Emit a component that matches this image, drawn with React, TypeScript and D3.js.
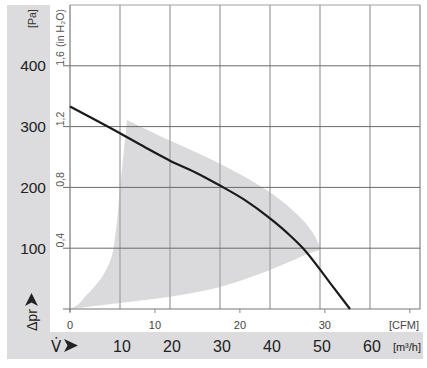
import * as d3 from "d3";
import { useEffect, useRef } from "react";

// fan curve: flow [m³/h] -> static pressure [Pa]
const curveFlow = [0, 10, 15, 20, 25, 30, 35, 40, 44, 46.6, 52, 56];
const curvePa = [333, 289, 266, 244, 225, 203, 179, 149, 121, 100, 43, 0];

// grey operating envelope, three edges
const leftEdgeFlow = [0, 1, 3, 6, 8, 9.2, 10, 10.7, 11.4];
const leftEdgePa = [0, 4, 20, 48, 78, 130, 200, 255, 311];
const topEdgeFlow = [11.4, 20, 30, 40, 46, 48.6, 50];
const topEdgePa = [311, 277, 239, 192, 151, 125, 102];
const bottomEdgeFlow = [50, 48, 40, 30, 20, 10, 0];
const bottomEdgePa = [97, 92, 64, 36, 20, 10, 0];

const flowTicks = [10, 20, 30, 40, 50, 60];
const paTicks = [100, 200, 300, 400];
const inH2OTicks = [0.4, 0.8, 1.2, 1.6];
const inH2OLabels = ["0,4", "0,8", "1,2", "1,6"];
const cfmTicks = [0, 10, 20, 30, 40];
const cfmLabels = ["0", "10", "20", "30", ""];

const W = 427;
const H = 368;
const FONT = "'Liberation Sans', Arial, sans-serif";

export default function App() {
  const ref = useRef<SVGSVGElement>(null);

  useEffect(() => {
    const svg = d3.select(ref.current);
    svg.selectAll("*").remove();

    const left = 70,
      right = 420,
      top = 5,
      bottom = 309;

    const x = d3.scaleLinear().domain([0, 70]).range([left, right]);
    const y = d3.scaleLinear().domain([0, 500]).range([bottom, top]);
    const xCfm = d3.scaleLinear().domain([0, 70 / 1.699]).range([left, right]);
    const yIn = d3.scaleLinear().domain([0, 500 / 249.09]).range([bottom, top]);

    // grey label panels
    svg.append("rect").attr("x", 7).attr("y", 5).attr("width", 43).attr("height", 330).attr("fill", "#dcdcde");
    svg.append("rect").attr("x", 7).attr("y", 332).attr("width", 416).attr("height", 27).attr("fill", "#dcdcde");

    // envelope
    const seg = (fx: number[], py: number[], curve: d3.CurveFactory) =>
      d3
        .line<number>()
        .x((d) => x(fx[d]))
        .y((d) => y(py[d]))
        .curve(curve)(d3.range(fx.length)) as string;
    const path =
      seg(leftEdgeFlow, leftEdgePa, d3.curveMonotoneY) +
      seg(topEdgeFlow, topEdgePa, d3.curveCatmullRom).replace(/^M/, "L") +
      seg(bottomEdgeFlow, bottomEdgePa, d3.curveCatmullRom).replace(/^M/, "L") +
      "Z";
    svg.append("path").attr("d", path).attr("fill", "#dadadc");

    // vertical grid
    svg
      .selectAll(".vg")
      .data(flowTicks)
      .enter()
      .append("line")
      .attr("x1", (d) => x(d))
      .attr("x2", (d) => x(d))
      .attr("y1", top)
      .attr("y2", bottom)
      .attr("stroke", "#a8a8a8")
      .attr("stroke-width", 1.4);

    // frame top / right
    svg.append("line").attr("x1", left).attr("x2", right).attr("y1", top).attr("y2", top).attr("stroke", "#a0a0a0");
    svg.append("line").attr("x1", right).attr("x2", right).attr("y1", top).attr("y2", bottom).attr("stroke", "#909090").attr("stroke-width", 1.3);

    // horizontal grid
    svg
      .selectAll(".hg")
      .data(paTicks)
      .enter()
      .append("line")
      .attr("x1", left - 7)
      .attr("x2", right)
      .attr("y1", (d) => y(d))
      .attr("y2", (d) => y(d))
      .attr("stroke", "#6a6a6a")
      .attr("stroke-width", 1);

    // axes
    svg.append("line").attr("x1", left).attr("x2", left).attr("y1", top).attr("y2", bottom + 3).attr("stroke", "#777").attr("stroke-width", 1.2);
    svg.append("line").attr("x1", left - 7).attr("x2", right).attr("y1", bottom).attr("y2", bottom).attr("stroke", "#777").attr("stroke-width", 1.2);

    // CFM ticks + labels
    svg
      .selectAll(".ct")
      .data(cfmTicks)
      .enter()
      .append("line")
      .attr("x1", (d) => xCfm(d))
      .attr("x2", (d) => xCfm(d))
      .attr("y1", bottom)
      .attr("y2", bottom + 4)
      .attr("stroke", "#888");
    svg
      .selectAll(".cl")
      .data(cfmTicks)
      .enter()
      .append("text")
      .attr("x", (d) => xCfm(d))
      .attr("y", 329)
      .attr("text-anchor", "middle")
      .attr("font-family", FONT)
      .attr("font-size", 11)
      .attr("fill", "#444")
      .text((d, i) => cfmLabels[i]);
    svg.append("text").attr("x", 419).attr("y", 329).attr("text-anchor", "end").attr("font-family", FONT).attr("font-size", 11).attr("fill", "#444").text("[CFM]");

    // m³/h labels
    svg
      .selectAll(".fl")
      .data(flowTicks)
      .enter()
      .append("text")
      .attr("x", (d) => x(d) + 2)
      .attr("y", 352)
      .attr("text-anchor", "middle")
      .attr("font-family", FONT)
      .attr("font-size", 16)
      .attr("fill", "#222")
      .text((d) => d);
    svg.append("text").attr("x", 421).attr("y", 351).attr("text-anchor", "end").attr("font-family", FONT).attr("font-size", 11).attr("fill", "#222").text("[m³/h]");
    svg.append("text").attr("x", 51).attr("y", 352).attr("font-family", "'DejaVu Sans', sans-serif").attr("font-size", 15).attr("fill", "#222").text("V\u0307");
    svg.append("path").attr("d", "M64,339 L78,345.5 L64,352 L67.5,345.5 Z").attr("fill", "#222");

    // Pa labels
    svg
      .selectAll(".pl")
      .data(paTicks)
      .enter()
      .append("text")
      .attr("x", 46)
      .attr("y", (d) => y(d) + 5.5)
      .attr("text-anchor", "end")
      .attr("font-family", FONT)
      .attr("font-size", 15.5)
      .attr("fill", "#222")
      .text((d) => d);
    svg.append("text").attr("transform", "translate(36,28) rotate(-90)").attr("font-family", FONT).attr("font-size", 10.5).attr("fill", "#333").text("[Pa]");

    // in H2O labels
    svg
      .selectAll(".il")
      .data(inH2OTicks)
      .enter()
      .append("text")
      .attr("transform", (d) => `translate(64,${yIn(d) - 1}) rotate(-90)`)
      .attr("font-family", FONT)
      .attr("font-size", 10.5)
      .attr("fill", "#555")
      .text((d, i) => inH2OLabels[i]);
    svg.append("text").attr("transform", "translate(64,47) rotate(-90)").attr("font-family", FONT).attr("font-size", 10.5).attr("fill", "#555").text("(in H\u2082O)");

    // Δpr with arrow
    svg.append("text").attr("transform", "translate(37,331) rotate(-90)").attr("font-family", FONT).attr("font-size", 14).attr("fill", "#222").text("Δpr");
    svg.append("path").attr("d", "M31.5,293 L38,306 L31.5,302.5 L25,306 Z").attr("fill", "#222");

    // fan curve
    const line = d3
      .line<number>()
      .x((d) => x(curveFlow[d]))
      .y((d) => y(curvePa[d]))
      .curve(d3.curveMonotoneX);
    svg
      .append("path")
      .attr("d", line(d3.range(curveFlow.length)))
      .attr("fill", "none")
      .attr("stroke", "#1a1a1a")
      .attr("stroke-width", 2.2);
  }, []);

  return (
    <svg
      ref={ref}
      width={W}
      height={H}
      style={{ position: "absolute", left: 0, top: 0, background: "#fff" }}
    />
  );
}
